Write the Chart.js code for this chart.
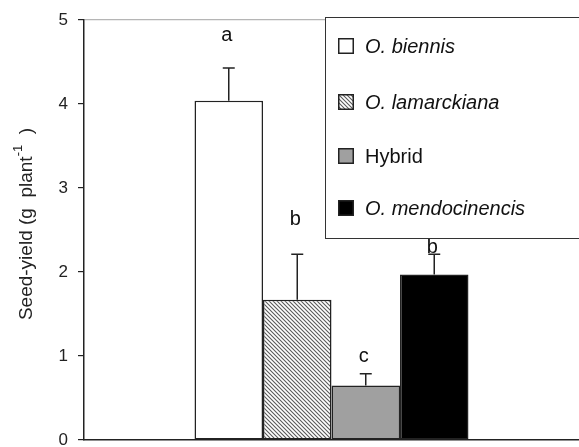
<!DOCTYPE html>
<html><head><meta charset="utf-8">
<script src="https://cdn.jsdelivr.net/npm/chart.js@4/dist/chart.umd.min.js"></script>
<style>html,body{margin:0;padding:0;background:#fff}#wrap{width:579px;height:447px}</style>
</head><body><div id="wrap"><canvas id="c" width="579" height="447"></canvas></div>
<script>
const seriesNames = ['O. biennis', 'O. lamarckiana', 'Hybrid', 'O. mendocinencis'];
const italicNames = [true, true, false, true];
const seedYield = [4.04, 1.67, 0.65, 1.97];
const seedYieldSE = [0.39, 0.54, 0.14, 0.24];
const sigLetters = ['a', 'b', 'c', 'b'];
const sigLetterY = [4.82, 2.62, 1.0, 2.29];
const yTicks = [0, 1, 2, 3, 4, 5];

const FONT = "'Liberation Sans', Arial, sans-serif";

function hatch() {
  const s = 4, cv = document.createElement('canvas');
  cv.width = s; cv.height = s;
  const g = cv.getContext('2d');
  g.fillStyle = '#fff'; g.fillRect(0, 0, s, s);
  g.strokeStyle = '#5a5a5a'; g.lineWidth = 1.1;
  g.beginPath();
  g.moveTo(-1, -1); g.lineTo(s + 1, s + 1);
  g.moveTo(-1, s - 1); g.lineTo(1, s + 1);
  g.moveTo(s - 1, -1); g.lineTo(s + 1, 1);
  g.stroke();
  return g.createPattern(cv, 'repeat');
}
const ctx0 = document.getElementById('c').getContext('2d');
const fills = ['#ffffff', hatch(), '#a0a0a0', '#000000'];

const errPlugin = {
  id: 'err',
  afterDatasetsDraw(chart) {
    const c = chart.ctx, y = chart.scales.y;
    c.save();
    c.strokeStyle = '#222'; c.lineWidth = 1.5;
    chart.data.datasets.forEach((ds, i) => {
      const el = chart.getDatasetMeta(i).data[0];
      const top = y.getPixelForValue(seedYield[i] + seedYieldSE[i]);
      const base = y.getPixelForValue(seedYield[i]);
      c.beginPath();
      c.moveTo(el.x, base); c.lineTo(el.x, top);
      c.moveTo(el.x - 6, top); c.lineTo(el.x + 6, top);
      c.stroke();
    });
    c.fillStyle = '#111';
    c.font = '20px ' + FONT;
    c.textAlign = 'center'; c.textBaseline = 'middle';
    chart.data.datasets.forEach((ds, i) => {
      const el = chart.getDatasetMeta(i).data[0];
      c.fillText(sigLetters[i], el.x - 2, y.getPixelForValue(sigLetterY[i]));
    });
    c.restore();
  },
  afterDraw(chart) {
    const c = chart.ctx;
    c.save();
    // legend box
    const lx = 325.5, ly = 17.5, lw = 270, lh = 221;
    c.fillStyle = '#fff'; c.fillRect(lx, ly, lw, lh);
    c.strokeStyle = '#333'; c.lineWidth = 1; c.strokeRect(lx, ly, lw, lh);
    const rowY = [46, 102, 156, 208];
    chart.data.datasets.forEach((ds, i) => {
      const mx = 338, my = rowY[i] - 8;
      c.fillStyle = ds.backgroundColor;
      c.fillRect(mx, my, 16, 16);
      c.strokeStyle = '#222'; c.lineWidth = 1.5;
      c.strokeRect(mx + 0.75, my + 0.75, 14.5, 14.5);
      c.fillStyle = '#111';
      c.font = (italicNames[i] ? 'italic ' : '') + '20px ' + FONT;
      c.textAlign = 'left'; c.textBaseline = 'middle';
      c.fillText(ds.label, 365, rowY[i] + 1);
    });
    // y-axis title with superscript
    c.translate(27, 224);
    c.rotate(-Math.PI / 2);
    c.fillStyle = '#222';
    c.textBaseline = 'middle'; c.textAlign = 'left';
    const main = 'Seed-yield (g  plant', sup = '-1', end = '  )';
    c.font = '19px ' + FONT;
    const w1 = c.measureText(main).width, w3 = c.measureText(end).width;
    c.font = '13px ' + FONT;
    const w2 = c.measureText(sup).width;
    const start = -(w1 + w2 + w3) / 2;
    c.font = '19px ' + FONT;
    c.fillText(main, start, 0);
    c.font = '13px ' + FONT;
    c.fillText(sup, start + w1, -9);
    c.font = '19px ' + FONT;
    c.fillText(end, start + w1 + w2, 0);
    c.restore();
  }
};

new Chart(ctx0, {
  type: 'bar',
  data: {
    labels: [''],
    datasets: seriesNames.map((n, i) => ({
      label: n,
      data: [seedYield[i]],
      backgroundColor: fills[i],
      borderColor: '#222',
      borderWidth: 1.5,
      borderSkipped: false,
      barPercentage: 1,
      categoryPercentage: 0.5535
    }))
  },
  options: {
    responsive: false,
    animation: false,
    layout: { padding: { top: 20, right: 0, bottom: 7, left: 0 } },
    plugins: { legend: { display: false }, tooltip: { enabled: false } },
    scales: {
      x: {
        ticks: { display: false },
        grid: { display: false },
        border: { display: true, color: '#222', width: 1.5 },
        afterFit(s) { s.height = 0; s.paddingLeft = 0; s.paddingRight = 0; }
      },
      y: {
        min: 0, max: 5,
        afterBuildTicks(s) { s.ticks = yTicks.map(v => ({ value: v })); },
        ticks: { font: { family: FONT, size: 17 }, color: '#222', padding: 10 },
        grid: {
          color: c => (c.tick && c.tick.value === 5 ? '#b5b5b5' : 'rgba(0,0,0,0)'),
          tickColor: '#222', tickLength: 6, lineWidth: 1.2
        },
        border: { display: true, color: '#222', width: 1.5 },
        afterFit(s) { s.width = 84; s.paddingTop = 0; s.paddingBottom = 0; }
      }
    }
  },
  plugins: [errPlugin]
});
</script>
</body></html>
